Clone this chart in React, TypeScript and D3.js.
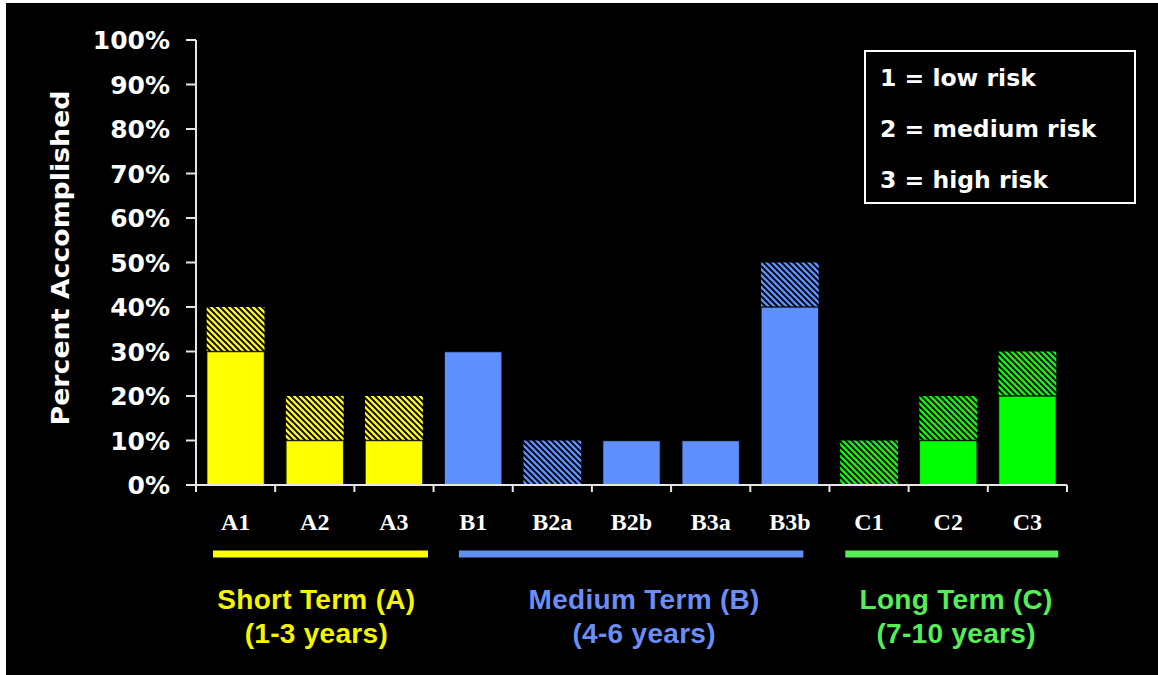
import React from "react";
import * as d3 from "d3";

const categories = ["A1", "A2", "A3", "B1", "B2a", "B2b", "B3a", "B3b", "C1", "C2", "C3"];
const groupOf = ["A", "A", "A", "B", "B", "B", "B", "B", "C", "C", "C"];
const solidValues = [30, 10, 10, 30, 0, 10, 10, 40, 0, 10, 20];
const hatchedValues = [10, 10, 10, 0, 10, 0, 0, 10, 10, 10, 10];
const yTicks = [0, 10, 20, 30, 40, 50, 60, 70, 80, 90, 100];
const legendLines = ["1 = low risk", "2 = medium risk", "3 = high risk"];
const groupKeys = ["A", "B", "C"];
const groupTitles = ["Short Term (A)", "Medium Term (B)", "Long Term (C)"];
const groupSubtitles = ["(1-3 years)", "(4-6 years)", "(7-10 years)"];
// extents of the group underline, in category-index units
const groupLineFrom = [0.215, 3.32, 8.2];
const groupLineTo = [2.93, 7.67, 10.89];
const groupLabelCenter = [1.52, 5.66, 9.6];

const barColors: Record<string, string> = { A: "#FFFF00", B: "#6090FF", C: "#00FF00" };
const lineColors: Record<string, string> = { A: "#FFFF00", B: "#6090F0", C: "#55EE55" };
const textColors: Record<string, string> = { A: "#F5F500", B: "#6A8EF5", C: "#55EE55" };

export default function App() {
  const W = 1158;
  const H = 675;
  const left = 196;
  const right = 1067;
  const top = 40;
  const bottom = 485;

  const x = d3.scaleBand<string>().domain(categories).range([left, right]).paddingInner(0.27).paddingOuter(0.135);
  const idx = d3.scaleLinear().domain([0, categories.length]).range([left, right]);
  const y = d3.scaleLinear().domain([0, 100]).range([bottom, top]);
  const bw = x.bandwidth();
  const axisColor = "#E6E6E6";
  const P = 6;

  return (
    <svg width={W} height={H} style={{ position: "absolute", left: 0, top: 0, display: "block" }}>
      <defs>
        {groupKeys.map((g) => (
          <pattern key={g} id={"hatch" + g} patternUnits="userSpaceOnUse" width={P} height={P}>
            <rect width={P} height={P} fill="#000" />
            <path
              d={`M0,0 L${P},${P} M${-P / 2},${P / 2} L${P / 2},${P * 1.5} M${P / 2},${-P / 2} L${P * 1.5},${P / 2}`}
              stroke={barColors[g]}
              strokeWidth={2.3}
            />
          </pattern>
        ))}
      </defs>
      <rect x={0} y={0} width={W} height={H} fill="#fff" />
      <rect x={6} y={3} width={W - 6} height={H - 3} fill="#000" />

      {/* bars */}
      {categories.map((c, i) => {
        const g = groupOf[i];
        const s = solidValues[i];
        const h = hatchedValues[i];
        const x0 = x(c)!;
        return (
          <g key={c}>
            {h > 0 && (
              <rect x={x0} y={y(s + h)} width={bw} height={y(s) - y(s + h)} fill={`url(#hatch${g})`} />
            )}
            {s > 0 && (
              <rect
                x={x0}
                y={y(s)}
                width={bw}
                height={y(0) - y(s)}
                fill={barColors[g]}
                stroke="#000"
                strokeWidth={1.5}
                strokeOpacity={0.8}
              />
            )}
          </g>
        );
      })}

      {/* y axis */}
      <line x1={left} x2={left} y1={top} y2={bottom + 7} stroke={axisColor} strokeWidth={2} />
      {yTicks.map((t) => (
        <g key={t}>
          <line x1={left - 10} x2={left} y1={y(t)} y2={y(t)} stroke={axisColor} strokeWidth={2} />
          <text
            x={170}
            y={y(t) + 2}
            textAnchor="end"
            dominantBaseline="middle"
            fill="#fff"
            fontFamily="DejaVu Sans"
            fontWeight="bold"
            fontSize={25}
          >
            {t}%
          </text>
        </g>
      ))}
      <text
        transform={`translate(69,${258}) rotate(-90)`}
        textAnchor="middle"
        fill="#fff"
        fontFamily="DejaVu Sans"
        fontWeight="bold"
        fontSize={25}
        textLength={335}
        lengthAdjust="spacingAndGlyphs"
      >
        Percent Accomplished
      </text>

      {/* x axis */}
      <line x1={left} x2={right} y1={bottom} y2={bottom} stroke={axisColor} strokeWidth={2} />
      {d3.range(categories.length + 1).map((i) => (
        <line key={i} x1={idx(i)} x2={idx(i)} y1={bottom} y2={bottom + 7} stroke={axisColor} strokeWidth={2} />
      ))}
      {categories.map((c) => (
        <text
          key={c}
          x={x(c)! + bw / 2}
          y={530}
          textAnchor="middle"
          fill="#fff"
          fontFamily="Liberation Serif"
          fontWeight="bold"
          fontSize={24}
        >
          {c}
        </text>
      ))}

      {/* group markers */}
      {groupKeys.map((g, i) => (
        <g key={g}>
          <line
            x1={idx(groupLineFrom[i])}
            x2={idx(groupLineTo[i])}
            y1={554}
            y2={554}
            stroke={lineColors[g]}
            strokeWidth={7}
          />
          <text
            x={idx(groupLabelCenter[i])}
            y={609}
            textAnchor="middle"
            fill={textColors[g]}
            fontFamily="'Liberation Sans', sans-serif"
            fontWeight="bold"
            fontSize={28}
            letterSpacing={0.3}
          >
            {groupTitles[i]}
          </text>
          <text
            x={idx(groupLabelCenter[i])}
            y={643}
            textAnchor="middle"
            fill={textColors[g]}
            fontFamily="'Liberation Sans', sans-serif"
            fontWeight="bold"
            fontSize={28}
            letterSpacing={0.3}
          >
            {groupSubtitles[i]}
          </text>
        </g>
      ))}

      {/* legend */}
      <rect x={865} y={51} width={270} height={152} fill="none" stroke="#fff" strokeWidth={2} />
      {legendLines.map((l, i) => (
        <text
          key={l}
          x={880}
          y={86 + i * 51}
          fill="#fff"
          fontFamily="DejaVu Sans"
          fontWeight="bold"
          fontSize={23.5}
        >
          {l}
        </text>
      ))}
    </svg>
  );
}
